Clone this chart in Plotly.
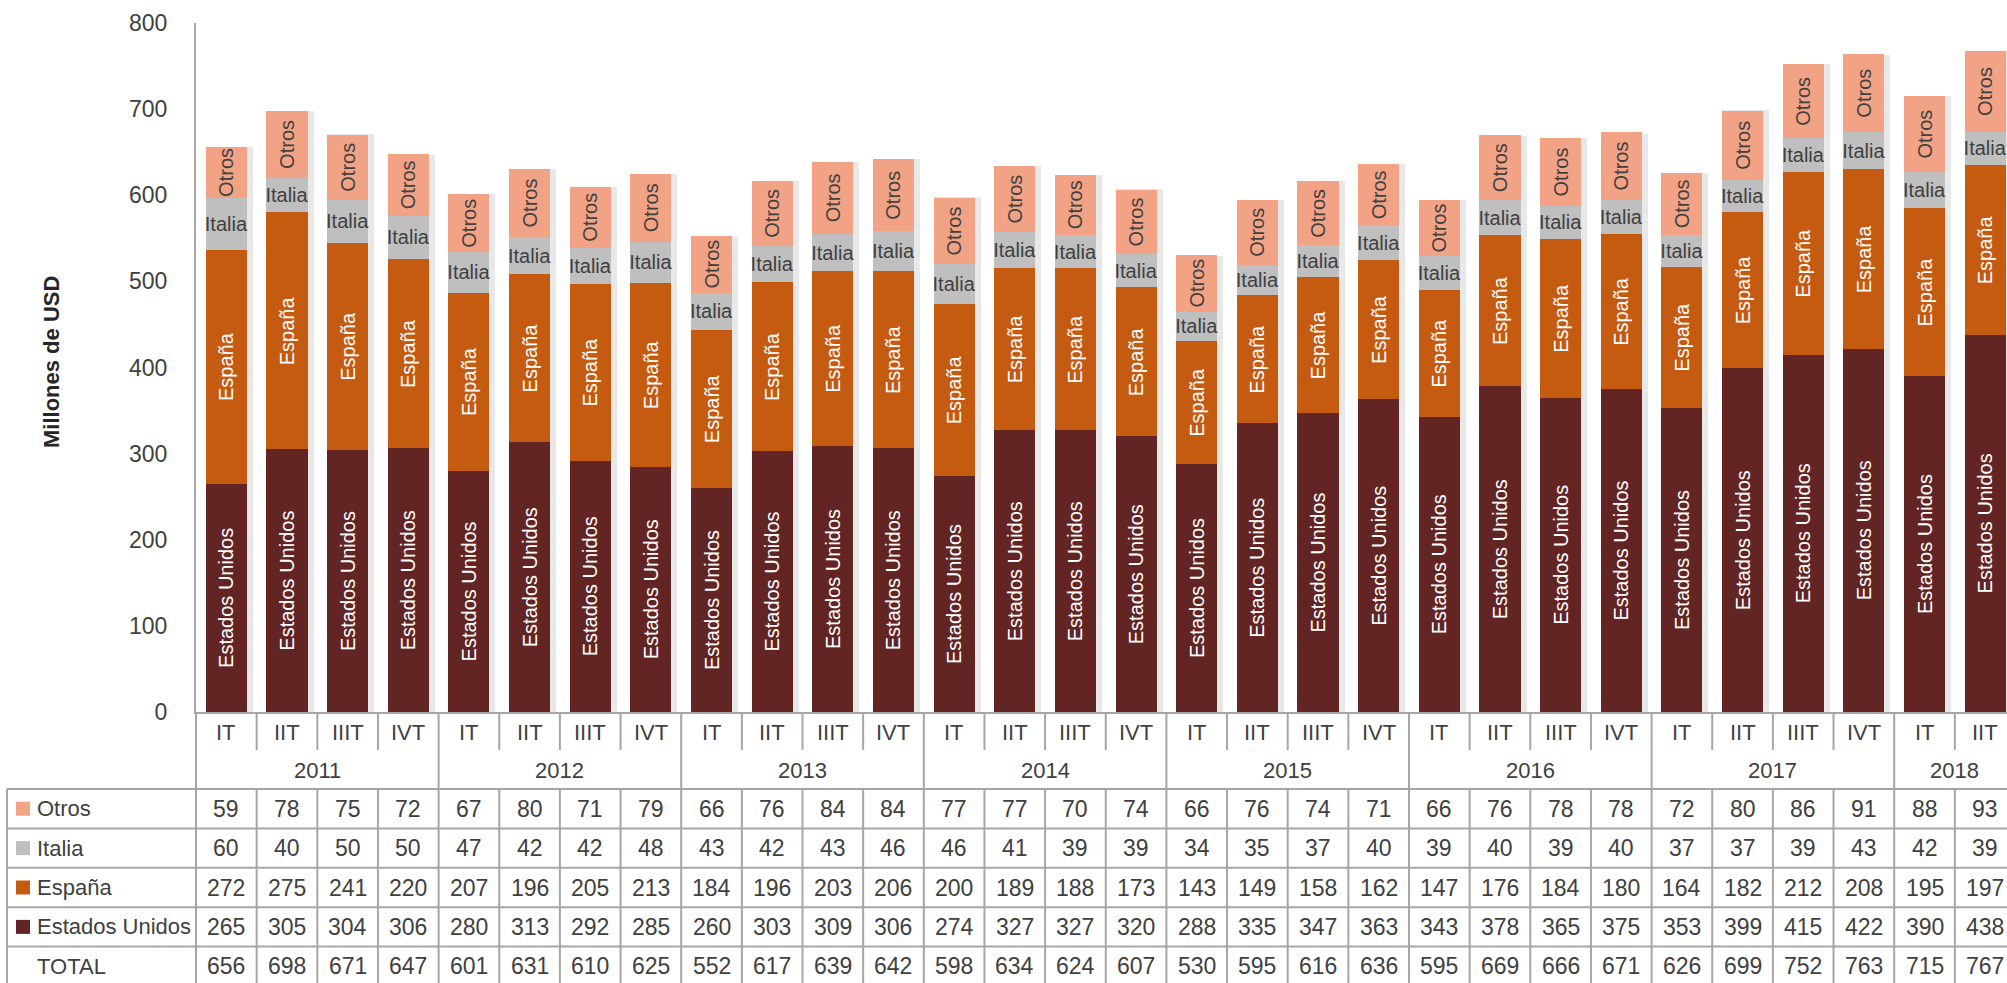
import plotly.graph_objects as go

# ---------------- data ----------------
years = ['2011', '2012', '2013', '2014', '2015', '2016', '2017', '2018']
quarters_in_year = [4, 4, 4, 4, 4, 4, 4, 2]
quarter_names = ['IT', 'IIT', 'IIIT', 'IVT']

otros = [59, 78, 75, 72, 67, 80, 71, 79, 66, 76, 84, 84, 77, 77, 70, 74,
         66, 76, 74, 71, 66, 76, 78, 78, 72, 80, 86, 91, 88, 93]
italia = [60, 40, 50, 50, 47, 42, 42, 48, 43, 42, 43, 46, 46, 41, 39, 39,
          34, 35, 37, 40, 39, 40, 39, 40, 37, 37, 39, 43, 42, 39]
espana = [272, 275, 241, 220, 207, 196, 205, 213, 184, 196, 203, 206, 200, 189, 188, 173,
          143, 149, 158, 162, 147, 176, 184, 180, 164, 182, 212, 208, 195, 197]
eeuu = [265, 305, 304, 306, 280, 313, 292, 285, 260, 303, 309, 306, 274, 327, 327, 320,
        288, 335, 347, 363, 343, 378, 365, 375, 353, 399, 415, 422, 390, 438]
total = [656, 698, 671, 647, 601, 631, 610, 625, 552, 617, 639, 642, 598, 634, 624, 607,
         530, 595, 616, 636, 595, 669, 666, 671, 626, 699, 752, 763, 715, 767]

y_title = 'Millones de USD'
y_ticks = [0, 100, 200, 300, 400, 500, 600, 700, 800]

# ---------------- derived categories ----------------
quarters = []
cat_years = []
for yr, n in zip(years, quarters_in_year):
    for q in quarter_names[:n]:
        quarters.append(q)
        cat_years.append(yr)
cats = [f'{q} {y}' for q, y in zip(quarters, cat_years)]
N = len(cats)

# ---------------- style ----------------
W, H = 2007, 983
PL, PR, PT, PB = 196, 2007, 23, 712
FONT = 'Liberation Sans, Arial, sans-serif'
TXT = '#404040'
LINE = '#A6A6A6'
C_EU, C_ES, C_IT, C_OT = '#632523', '#C55A11', '#BFBFBF', '#F2A385'
XRANGE = [-0.5, 29.36]
BARW = 0.678
CELL = (PR - PL) / (XRANGE[1] - XRANGE[0])


def py(Y):
    return (PB - Y) / (PB - PT)


def px(X):
    return (X - PL) / (PR - PL)


fig = go.Figure()

# soft shadow behind each bar (drawn from the totals on the base axis)
fig.add_trace(go.Bar(
    x=cats, y=total, xaxis='x', yaxis='y',
    width=BARW + 6 / CELL, offset=-BARW / 2,
    marker=dict(color='rgba(0,0,0,0.09)', line=dict(width=0)),
    hoverinfo='skip', showlegend=False,
))

series = [
    ('Estados Unidos', eeuu, C_EU, 'white', -90),
    ('España', espana, C_ES, 'white', -90),
    ('Italia', italia, C_IT, TXT, 0),
    ('Otros', otros, C_OT, TXT, -90),
]
for name, vals, col, tcol, ang in series:
    fig.add_trace(go.Bar(
        x=cats, y=vals, name=name, xaxis='x2', yaxis='y',
        marker=dict(color=col, line=dict(width=0)),
        text=[name] * len(vals), textposition='inside', insidetextanchor='middle',
        textangle=ang, constraintext='none',
        textfont=dict(family=FONT, size=20, color=tcol),
        hoverinfo='skip',
    ))

annotations = []
shapes = []

# quarter row
for i, q in enumerate(quarters):
    annotations.append(dict(x=i, y=py(732), xref='x', yref='paper', text=q,
                            showarrow=False, xanchor='center', yanchor='middle'))
# year row
start = 0
year_bounds = [0]
for yr, n in zip(years, quarters_in_year):
    annotations.append(dict(x=start + (n - 1) / 2, y=py(770), xref='x', yref='paper', text=yr,
                            showarrow=False, xanchor='center', yanchor='middle'))
    start += n
    year_bounds.append(start)

# table rows
rows = [
    ('Otros', otros, C_OT),
    ('Italia', italia, C_IT),
    ('España', espana, C_ES),
    ('Estados Unidos', eeuu, C_EU),
    ('TOTAL', total, None),
]
row_top = 789
row_h = 39.4
for r, (label, vals, col) in enumerate(rows):
    yc = row_top + row_h * (r + 0.5)
    for i, v in enumerate(vals):
        annotations.append(dict(x=i, y=py(yc), xref='x', yref='paper', text=str(v),
                                showarrow=False, xanchor='center', yanchor='middle',
                                font=dict(size=23)))
    annotations.append(dict(x=px(35), y=py(yc), xref='paper', yref='paper', text=label,
                            showarrow=False, xanchor='left', yanchor='middle'))
    if col:
        shapes.append(dict(type='rect', xref='paper', yref='paper', x0=px(16), x1=px(30),
                           y0=py(yc + 7), y1=py(yc - 7), fillcolor=col, line=dict(width=0)))

# horizontal table lines
for r in range(len(rows) + 1):
    Y = row_top + row_h * r
    shapes.append(dict(type='line', xref='paper', yref='paper', x0=px(7), x1=1.0,
                       y0=py(Y), y1=py(Y), line=dict(color=LINE, width=2)))
# label column borders
shapes.append(dict(type='line', xref='paper', yref='paper', x0=px(7), x1=px(7),
                   y0=py(row_top), y1=py(H + 5), line=dict(color=LINE, width=2)))
shapes.append(dict(type='line', xref='paper', yref='paper', x0=0, x1=0,
                   y0=py(PB), y1=py(H + 5), line=dict(color=LINE, width=2)))
# vertical dividers
for b in range(1, N + 1):
    xb = b - 0.5
    if b in year_bounds:
        shapes.append(dict(type='line', xref='x', yref='paper', x0=xb, x1=xb,
                           y0=py(PB), y1=py(H + 5), line=dict(color=LINE, width=2)))
    else:
        shapes.append(dict(type='line', xref='x', yref='paper', x0=xb, x1=xb,
                           y0=py(PB), y1=py(750), line=dict(color=LINE, width=2)))
        shapes.append(dict(type='line', xref='x', yref='paper', x0=xb, x1=xb,
                           y0=py(row_top), y1=py(H + 5), line=dict(color=LINE, width=2)))

# y title
annotations.append(dict(x=px(51), y=py(362), xref='paper', yref='paper', text='<b>' + y_title + '</b>',
                        textangle=-90, showarrow=False, xanchor='center', yanchor='middle',
                        font=dict(size=22, color='#262626')))

fig.update_layout(
    width=W, height=H, autosize=False,
    margin=dict(l=PL, r=W - PR, t=PT, b=H - PB, pad=0),
    barmode='stack', bargap=1 - BARW,
    showlegend=False,
    plot_bgcolor='white', paper_bgcolor='white',
    font=dict(family=FONT, size=22, color=TXT),
    xaxis=dict(type='category', categoryorder='array', categoryarray=cats, range=XRANGE,
               showticklabels=False, ticks='',
               showline=True, linecolor=LINE, linewidth=2, showgrid=False, zeroline=False,
               fixedrange=True),
    xaxis2=dict(type='category', categoryorder='array', categoryarray=cats, range=XRANGE,
                overlaying='x', anchor='y', visible=False, fixedrange=True),
    yaxis=dict(range=[0, 800], tickvals=y_ticks, showline=True, linecolor=LINE, linewidth=2,
               showgrid=False, zeroline=False, ticks='', ticklabelstandoff=22,
               tickfont=dict(family=FONT, size=23, color=TXT), fixedrange=True),
    annotations=annotations, shapes=shapes,
    hovermode=False,
)

fig.write_html('out.html', config={'displayModeBar': False},
               post_script="document.body.style.margin='0';document.body.style.overflow='hidden';")
